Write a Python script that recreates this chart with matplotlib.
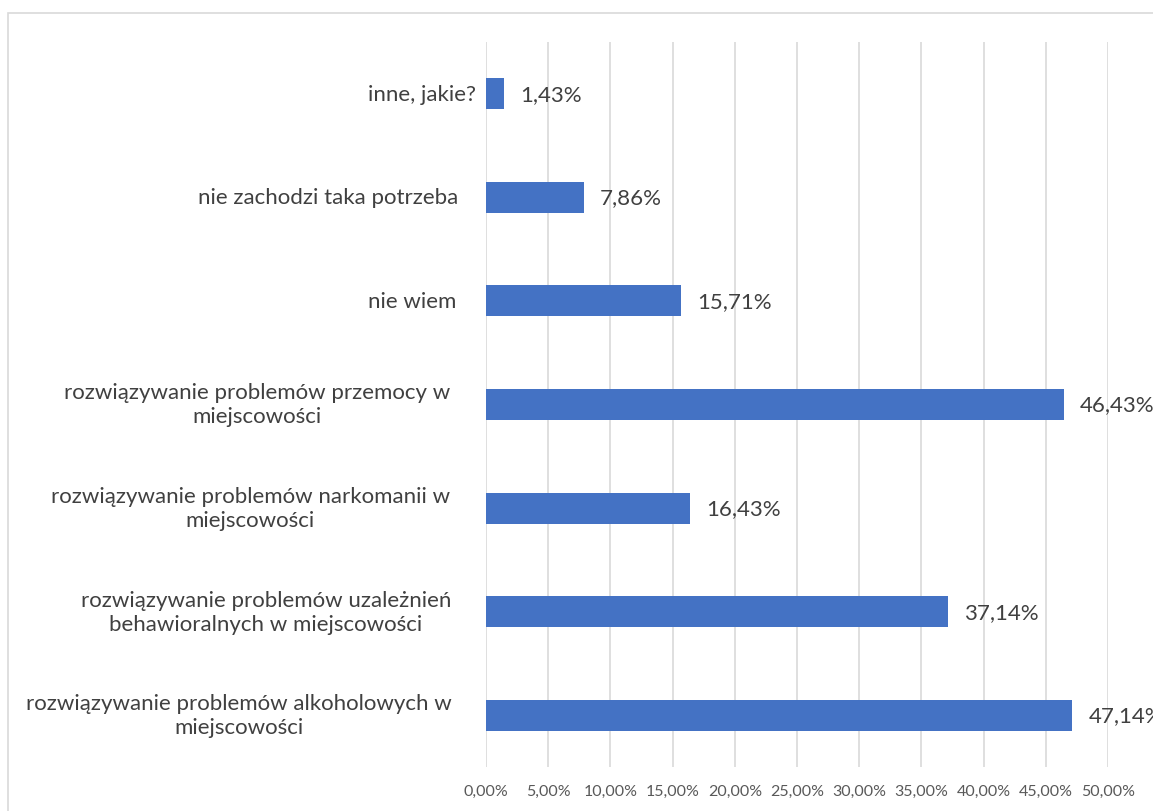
import matplotlib
matplotlib.use("Agg")
import matplotlib.pyplot as plt
from matplotlib.patches import Rectangle
from matplotlib.transforms import ScaledTranslation

categories = [
    "rozwiązywanie problemów alkoholowych w\nmiejscowości",
    "rozwiązywanie problemów uzależnień\nbehawioralnych w miejscowości",
    "rozwiązywanie problemów narkomanii w\nmiejscowości",
    "rozwiązywanie problemów przemocy w\nmiejscowości",
    "nie wiem",
    "nie zachodzi taka potrzeba",
    "inne, jakie?",
]
values = [47.14, 37.14, 16.43, 46.43, 15.71, 7.86, 1.43]
xticks = [0, 5, 10, 15, 20, 25, 30, 35, 40, 45, 50]
# right edge of each category label, pixels left of the axis
label_gap = [34, 35, 36, 36, 30, 28, 10]

W, H = 1153, 812
fig = plt.figure(figsize=(W / 100, H / 100), dpi=100)
plt.rcParams["font.family"] = ["Lato", "DejaVu Sans"]

# chart frame
fig.patches.append(Rectangle((8 / W, -0.1), 1.2, 1 - 14 / H + 0.1,
                             transform=fig.transFigure, fill=False,
                             edgecolor="#d9d9d9", linewidth=1.2))

ax = fig.add_axes([486 / W, 1 - 768 / H, (1108 - 486) / W, (768 - 43) / H])
y = list(range(len(categories)))
ax.barh(y, values, height=0.3, color="#4472C4", zorder=3)

for yi, v in zip(y, values):
    ax.annotate(f"{v:.2f}%".replace(".", ","), (v, yi), xytext=(11.5, 0),
                textcoords="offset points", va="center", ha="left",
                fontsize=16, color="#404040", annotation_clip=False)

for yi, cat, gap in zip(y, categories, label_gap):
    tr = ax.get_yaxis_transform() + ScaledTranslation(-gap / 100, 0,
                                                       fig.dpi_scale_trans)
    ax.text(0, yi, cat, transform=tr, ha="right", va="center",
            multialignment="center", linespacing=1.25,
            fontsize=16, color="#404040", clip_on=False)

ax.set_xlim(0, 50)
ax.set_ylim(-0.5, len(categories) - 0.5)
ax.set_xticks(xticks)
ax.set_xticklabels([f"{t:.2f}%".replace(".", ",") for t in xticks],
                   fontsize=11.5, color="#595959")
ax.set_yticks([])
ax.tick_params(axis="both", length=0)
ax.tick_params(axis="x", pad=12)
ax.grid(axis="x", color="#d9d9d9", linewidth=1.2, zorder=0)
for s in ax.spines.values():
    s.set_visible(False)

fig.savefig("out.png", dpi=100)
